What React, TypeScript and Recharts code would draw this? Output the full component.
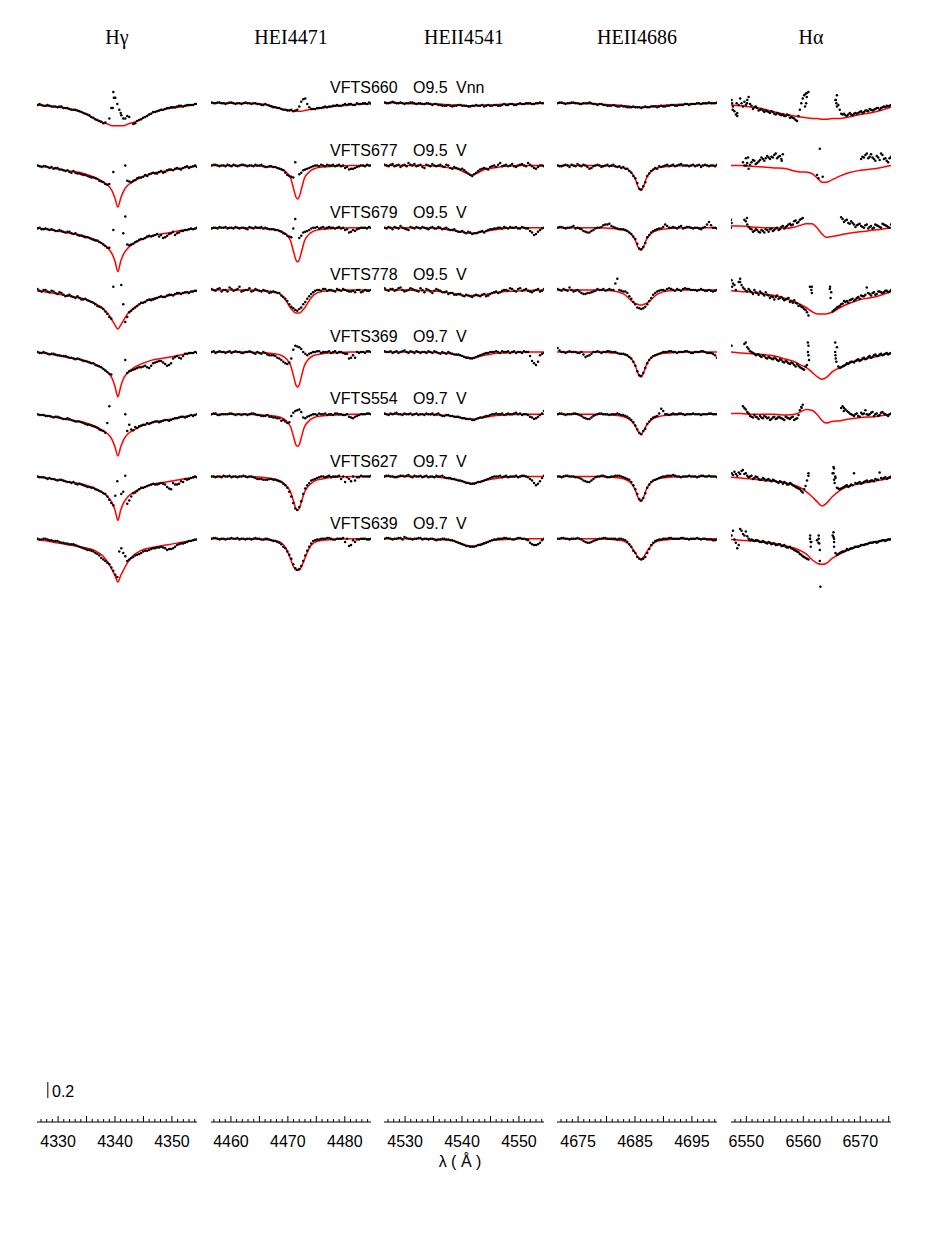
import React from 'react';
import { ComposedChart, Line, Scatter, XAxis, YAxis, ReferenceLine } from 'recharts';

// layout (page pixels)
const PX_PER_UNIT = 80;
const PLOT_TOP = 60;
const AXIS_Y = 1122;
const ROW0 = 103.3;
const ROW_STEP = 62.2;
const Y_MAX = (AXIS_Y - PLOT_TOP) / PX_PER_UNIT;
const PANEL_LEFT = [37, 211, 384, 557, 731];
const PAD = 12;

const titles = ['Hγ', 'HEI4471', 'HEII4541', 'HEII4686', 'Hα'];
const stars = ['VFTS660', 'VFTS677', 'VFTS679', 'VFTS778', 'VFTS369', 'VFTS554', 'VFTS627', 'VFTS639'];
const spTypes = ['O9.5', 'O9.5', 'O9.5', 'O9.5', 'O9.7', 'O9.7', 'O9.7', 'O9.7'];
const lumClasses = ['Vnn', 'V', 'V', 'V', 'V', 'V', 'V', 'V'];

const hgRange = [4326.3, 4354.4];
const he1Range = [4456.5, 4484.6];
const he2aRange = [4526.3, 4554.4];
const he2bRange = [4671.3, 4699.4];
const haRange = [6547.3, 6575.4];

const hgTickLabels = [4330, 4340, 4350];
const he1TickLabels = [4460, 4470, 4480];
const he2aTickLabels = [4530, 4540, 4550];
const he2bTickLabels = [4675, 4685, 4695];
const haTickLabels = [6550, 6560, 6570];

const N = null;

// ---------- H gamma ----------
const hgWave = [4326.4, 4327.1, 4327.8, 4328.5, 4329.2, 4329.9, 4330.6, 4331.3, 4332.0, 4332.7, 4333.4, 4334.1, 4334.8, 4335.5, 4336.2, 4336.9, 4337.6, 4338.3, 4339.0, 4339.7, 4340.4, 4341.1, 4341.8, 4342.5, 4343.2, 4343.9, 4344.6, 4345.3, 4346.0, 4346.7, 4347.4, 4348.1, 4348.8, 4349.5, 4350.2, 4350.9, 4351.6, 4352.3, 4353.0, 4353.7, 4354.4];
const hgObs = [
  [98, 98, 97, 97, 96, 95, 96, 94, 93, 92, 91, 89, 87, 85, 82, 79, 77, 76, 81, 114, 99, 85, 81, 83, 74, 78, 80, 83, 86, 89, 90, 92, 93, 94, 95, 96, 97, 97, 98, 98, 99],
  [100, 98, 99, 97, 96, 97, 95, 93, 92, 93, 90, 89, 88, 86, 85, 83, 80, 77, 77, 92, N, N, 100, 80, 81, 84, 85, 88, 89, 91, 90, 93, 92, 95, 94, 97, 95, 98, 97, 99, 98],
  [99, 98, 99, 97, 97, 96, 96, 94, 95, 92, 91, 90, 88, 87, 85, 84, 81, 77, 75, 97, N, N, 114, 78, 80, 83, 86, 87, 90, 90, 92, 91, 88, 92, 95, 93, 96, 97, 98, 98, 100],
  [101, 98, 100, 97, 98, 95, 96, 92, 94, 91, 92, 88, 89, 86, 84, 80, 78, 73, 66, 104, N, 106, 60, 72, 76, 80, 84, 85, 88, 88, 90, 92, 91, 94, 93, 96, 95, 97, 96, 98, 99],
  [100, 99, 99, 97, 98, 96, 95, 95, 93, 92, 92, 90, 89, 87, 86, 83, 81, 77, 73, N, N, N, 90, 76, 78, 80, 81, 83, 80, 86, 88, 89, 85, 84, 92, 95, 92, 98, 99, 99, 99],
  [100, 99, 98, 98, 96, 97, 95, 94, 94, 92, 91, 90, 88, 87, 85, 83, 80, 77, 110, N, N, N, 100, 87, 80, 83, 86, 87, 88, 90, 91, 91, 93, 92, 94, 95, 97, 96, 98, 98, 100],
  [100, 99, 98, 98, 97, 95, 96, 94, 93, 93, 90, 90, 88, 87, 86, 83, 81, 78, 71, 64, 94, 78, 101, 70, 79, 82, 86, 87, 89, 91, 90, 92, 90, 85, 92, 90, 94, 97, 97, 99, 99],
  [100, 99, 100, 98, 97, 97, 95, 94, 93, 93, 91, 89, 87, 86, 84, 81, 76, 72, 68, 60, 52, 88, 78, 74, 77, 80, 82, 85, 86, 88, 89, 90, 88, 87, 88, 92, 94, 95, 97, 98, 99],
];
const hgWaveB = [4326.75, 4327.45, 4328.15, 4328.85, 4329.55, 4330.25, 4330.95, 4331.65, 4332.35, 4333.05, 4333.75, 4334.45, 4335.15, 4335.85, 4336.55, 4337.25, 4337.95, 4338.65, 4339.35, 4340.05, 4340.75, 4341.45, 4342.15, 4342.85, 4343.55, 4344.25, 4344.95, 4345.65, 4346.35, 4347.05, 4347.75, 4348.45, 4349.15, 4349.85, 4350.55, 4351.25, 4351.95, 4352.65, 4353.35, 4354.05];
const hgObsB = [
  [99, 97, 98, 96, 96, 96, 94, 94, 92, 92, 90, 88, 86, 83, 80, 78, 75, N, 94, 107, 92, 81, 84, N, 75, 79, 82, 84, 87, 89, 91, 92, 94, 95, 95, 97, 96, 98, 98, 99],
  [99, 99, 98, 98, 97, 95, 94, 94, 91, 91, 90, 88, 87, 85, 84, 81, 79, 76, N, N, N, N, 81, 79, 82, 85, 86, 87, 90, 90, 92, 91, 94, 95, 96, 96, 97, 99, 98, 100],
  [100, 98, 98, 98, 96, 97, 95, 95, 93, 93, 90, 89, 88, 86, 84, 82, 79, 75, N, N, N, 93, 79, 79, 82, 85, 86, 89, 89, 91, 89, 87, 90, 93, 91, 94, 96, 97, 99, 99],
  [99, 100, 98, 99, 96, 97, 94, 93, 92, 90, 90, 88, 87, 85, 82, 79, 76, 70, 64, N, N, 82, 66, 74, 78, 82, 84, 87, 87, 89, 91, 91, 93, 94, 95, 96, 96, 97, 98, 99],
  [99, 100, 98, 98, 97, 96, 95, 94, 93, 91, 91, 89, 88, 86, 84, 82, 79, 75, 72, N, N, N, 74, 77, 79, 81, 82, 81, 83, 87, 89, 87, 83, 86, 94, 93, 95, 98, 99, 100],
  [99, 99, 98, 97, 97, 96, 94, 95, 93, 91, 91, 89, 87, 86, 84, 81, 79, 89, N, N, N, N, 79, 81, 84, 85, 87, 89, 89, 91, 90, 92, 93, 93, 95, 96, 97, 97, 99, 99],
  [99, 99, 97, 97, 96, 96, 95, 93, 92, 91, 91, 89, 87, 86, 84, 82, 79, 75, 67, 76, N, 81, 66, 75, 80, 84, 86, 88, 90, 90, 91, 91, 87, 84, 90, 91, 93, 96, 98, 100],
  [99, 100, 99, 98, 97, 96, 95, 94, 93, 92, 90, 88, 86, 85, 82, 79, 74, 70, 64, 55, 84, 82, 72, 76, 79, 81, 84, 85, 87, 88, 89, 89, 86, 87, 90, 93, 94, 96, 97, 99],
];
const hgExtra = [[0, 4339.6, 94], [0, 4339.8, 107], [0, 4341.0, 88]];
const hgModelWave = [4326.3, 4329, 4332, 4334.5, 4336.5, 4337.8, 4338.8, 4339.5, 4340, 4340.5, 4341, 4341.5, 4342.2, 4343.2, 4344.5, 4346.5, 4349, 4352, 4354.4];
const hgModel = [
  [98, 96, 93, 88, 80, 76, 74, 72, 72, 72, 72, 72, 74, 76, 80, 88, 93, 96, 99],
  [100, 97, 93, 90, 85, 80, 75, 68, 59, 48, 59, 68, 75, 80, 85, 90, 93, 97, 99],
  [100, 97, 93, 90, 85, 80, 74, 67, 58, 45, 58, 67, 74, 80, 85, 90, 93, 97, 99],
  [99, 96, 92, 89, 83, 77, 70, 62, 56, 51, 56, 62, 70, 77, 83, 89, 92, 96, 99],
  [100, 97, 93, 90, 85, 80, 74, 67, 57, 44, 57, 67, 74, 80, 85, 90, 93, 97, 100],
  [100, 97, 93, 90, 85, 80, 75, 68, 59, 48, 59, 68, 75, 80, 85, 90, 93, 97, 100],
  [100, 97, 93, 90, 85, 80, 74, 67, 58, 45, 58, 67, 74, 80, 85, 90, 93, 97, 99],
  [99, 96, 92, 89, 85, 79, 70, 61, 54, 46, 54, 61, 70, 79, 85, 89, 92, 96, 99],
];

// ---------- He I 4471 ----------
const he1Wave = [4456.6, 4457.3, 4458.0, 4458.7, 4459.4, 4460.1, 4460.8, 4461.5, 4462.2, 4462.9, 4463.6, 4464.3, 4465.0, 4465.7, 4466.4, 4467.1, 4467.8, 4468.5, 4469.2, 4469.9, 4470.6, 4471.3, 4472.0, 4472.7, 4473.4, 4474.1, 4474.8, 4475.5, 4476.2, 4476.9, 4477.6, 4478.3, 4479.0, 4479.7, 4480.4, 4481.1, 4481.8, 4482.5, 4483.2, 4483.9, 4484.6];
const he1Obs = [
  [101, 100, 101, 100, 100, 101, 99, 100, 100, 100, 99, 100, 99, 98, 98, 96, 95, 94, 92, 91, 92, 91, 96, 105, 99, 93, 93, 94, 95, 95, 96, 97, 97, 98, 98, 99, 98, 99, 100, 99, 100],
  [100, 101, 99, 100, 101, 99, 100, 100, 101, 99, 100, 101, 100, 99, 98, 99, 98, 96, 94, 88, 86, 104, 89, 94, 96, 98, 100, 99, 100, 101, 100, 99, 101, 100, 98, 96, 97, 99, 100, 101, 100],
  [99, 100, 101, 100, 99, 100, 101, 99, 100, 98, 100, 101, 100, 99, 99, 98, 97, 96, 93, 90, 88, 111, 87, 94, 96, 99, 100, 99, 101, 100, 100, 99, 101, 100, 98, 95, 96, 99, 100, 99, 100],
  [101, 99, 102, 100, 98, 101, 100, 104, 99, 100, 98, 101, 99, 100, 98, 97, 97, 96, 91, 86, 79, 75, 76, 82, 89, 95, 99, 100, 101, 99, 100, 98, 100, 101, 99, 98, 97, 100, 98, 99, 100],
  [100, 99, 101, 100, 100, 99, 101, 100, 99, 100, 100, 98, 99, 100, 97, 96, 95, 92, 88, 85, 92, 108, 106, 100, 96, 99, 100, 101, 100, 100, 99, 101, 100, 99, 98, 93, 93, 99, 100, 101, 100],
  [100, 101, 99, 100, 100, 101, 99, 100, 100, 99, 101, 100, 99, 98, 99, 97, 96, 95, 93, 89, 98, 104, 106, 96, 97, 99, 100, 101, 100, 99, 100, 101, 100, 99, 100, 96, 97, 99, 100, 101, 100],
  [100, 99, 100, 101, 100, 99, 100, 100, 101, 99, 100, 98, 97, 96, 96, 97, 96, 94, 91, 86, 75, 60, 62, 78, 89, 95, 97, 99, 100, 100, 99, 100, 101, 100, 99, 94, 95, 99, 100, 100, 101],
  [100, 101, 99, 100, 100, 101, 100, 99, 100, 100, 99, 101, 100, 99, 100, 98, 97, 95, 90, 84, 75, 63, 62, 72, 85, 94, 98, 99, 100, 101, 100, 99, 100, 101, 100, 92, 96, 99, 100, 99, 100],
];
const he1WaveB = [4456.95, 4457.65, 4458.35, 4459.05, 4459.75, 4460.45, 4461.15, 4461.85, 4462.55, 4463.25, 4463.95, 4464.65, 4465.35, 4466.05, 4466.75, 4467.45, 4468.15, 4468.85, 4469.55, 4470.25, 4470.95, 4471.65, 4472.35, 4473.05, 4473.75, 4474.45, 4475.15, 4475.85, 4476.55, 4477.25, 4477.95, 4478.65, 4479.35, 4480.05, 4480.75, 4481.45, 4482.15, 4482.85, 4483.55, 4484.25];
const he1ObsB = [
  [100, 101, 100, 99, 101, 100, 100, 99, 101, 100, 100, 99, 98, 99, 97, 95, 94, 93, 92, 91, 90, 92, 102, 106, 95, 93, 94, 94, 96, 96, 97, 98, 97, 99, 99, 98, 100, 99, 100, 101],
  [101, 100, 100, 99, 100, 101, 99, 101, 100, 100, 99, 100, 101, 98, 99, 98, 97, 95, 91, 87, 85, N, 91, 95, 97, 99, 100, 101, 99, 100, 101, 100, 99, 97, 95, 96, 98, 100, 99, 100],
  [100, 99, 100, 101, 100, 99, 100, 100, 99, 101, 99, 100, 101, 100, 98, 98, 97, 95, 92, 89, 99, N, 90, 95, 97, 100, 101, 100, 99, 101, 100, 100, 99, 97, 94, 97, 98, 100, 100, 101],
  [100, 101, 98, 100, 103, 99, 101, 98, 100, 102, 99, 100, 98, 99, 96, 98, 96, 93, 89, 82, 77, 74, 78, 85, 92, 97, 100, 99, 101, 100, 99, 101, 99, 100, 98, 99, 100, 97, 100, 99],
  [101, 100, 100, 99, 101, 100, 100, 99, 100, 101, 99, 100, 98, 99, 96, 96, 93, 90, 86, 87, 103, 107, 104, 98, 98, 100, 101, 99, 100, 101, 100, 99, 100, 98, 92, 96, 100, 100, 99, 101],
  [101, 99, 100, 100, 101, 100, 100, 99, 100, 100, 101, 99, 98, 98, 97, 96, 95, 92, 91, 90, 102, 105, 103, 95, 98, 100, 99, 100, 101, 100, 99, 101, 100, 99, 97, 95, 98, 100, 100, 101],
  [100, 100, 99, 100, 101, 100, 99, 100, 100, 100, 99, 97, 97, 96, 97, 96, 95, 93, 89, 81, 67, 58, 69, 85, 92, 96, 98, 100, 99, 101, 100, 100, 97, 93, 97, 100, 99, 101, 100, 100],
  [101, 100, 100, 99, 100, 100, 101, 100, 99, 100, 100, 100, 99, 100, 99, 97, 96, 93, 88, 80, 68, 61, 66, 79, 90, 97, 99, 100, 100, 101, 99, 100, 100, 96, 91, 98, 99, 100, 100, 99],
];
const he1ModelWave = [4456.5, 4460, 4463, 4465.5, 4467.5, 4468.8, 4469.8, 4470.5, 4471, 4471.4, 4471.7, 4472, 4472.4, 4472.9, 4473.6, 4474.6, 4476, 4478, 4481, 4484.6];
const he1Model = [
  [101, 100, 100, 99, 96, 93, 92, 91, 90, 90, 90, 90, 90, 91, 92, 93, 94, 96, 98, 99],
  [100, 100, 100, 99, 98, 96, 91, 84, 71, 61, 58, 61, 71, 84, 91, 96, 98, 99, 100, 100],
  [100, 100, 100, 99, 98, 96, 91, 83, 70, 60, 57, 60, 70, 83, 91, 96, 98, 99, 100, 100],
  [100, 100, 100, 99, 98, 94, 85, 77, 73, 71, 71, 71, 73, 77, 85, 94, 98, 99, 100, 100],
  [100, 100, 100, 99, 98, 96, 91, 83, 70, 59, 56, 59, 70, 83, 91, 96, 98, 99, 100, 100],
  [100, 100, 100, 99, 98, 96, 91, 84, 72, 62, 60, 62, 72, 84, 91, 96, 98, 99, 100, 100],
  [100, 100, 100, 99, 97, 94, 88, 80, 69, 60, 58, 60, 69, 80, 88, 94, 97, 99, 100, 100],
  [100, 100, 100, 99, 98, 95, 86, 74, 65, 61, 61, 61, 65, 74, 86, 95, 98, 99, 100, 100],
];

// ---------- He II 4541 ----------
const he2aWave = [4526.4, 4527.1, 4527.8, 4528.5, 4529.2, 4529.9, 4530.6, 4531.3, 4532.0, 4532.7, 4533.4, 4534.1, 4534.8, 4535.5, 4536.2, 4536.9, 4537.6, 4538.3, 4539.0, 4539.7, 4540.4, 4541.1, 4541.8, 4542.5, 4543.2, 4543.9, 4544.6, 4545.3, 4546.0, 4546.7, 4547.4, 4548.1, 4548.8, 4549.5, 4550.2, 4550.9, 4551.6, 4552.3, 4553.0, 4553.7, 4554.4];
const he2aObs = [
  [101, 100, 102, 100, 101, 99, 100, 101, 99, 100, 99, 100, 98, 99, 98, 97, 98, 96, 97, 98, 97, 96, 97, 98, 97, 96, 98, 97, 98, 97, 99, 98, 99, 98, 100, 99, 100, 99, 100, 101, 100],
  [101, 99, 102, 100, 98, 101, 103, 100, 99, 101, 97, 100, 102, 99, 101, 98, 100, 96, 97, 95, 94, 90, 87, 91, 95, 97, 95, 99, 98, 103, 100, 99, 102, 98, 101, 100, 103, 99, 96, 100, 99],
  [100, 101, 98, 100, 102, 99, 97, 100, 101, 99, 100, 98, 101, 99, 100, 99, 98, 97, 96, 95, 94, 95, 92, 93, 95, 94, 97, 98, 99, 100, 101, 99, 100, 101, 99, 100, 99, 94, 92, 97, 100],
  [102, 99, 101, 100, 103, 98, 100, 101, 99, 102, 97, 100, 96, 101, 99, 97, 95, 96, 94, 95, 92, 93, 91, 94, 92, 95, 93, 96, 98, 97, 100, 99, 101, 98, 102, 100, 99, 97, 100, 98, 101],
  [101, 100, 99, 101, 100, 102, 99, 100, 101, 99, 100, 101, 99, 100, 98, 99, 100, 98, 97, 96, 94, 93, 92, 94, 96, 98, 99, 100, 101, 99, 100, 101, 100, 99, 100, 101, 100, 89, 84, 96, 99],
  [101, 99, 100, 102, 100, 101, 100, 99, 101, 100, 99, 100, 101, 100, 99, 98, 99, 98, 97, 96, 95, 94, 93, 94, 96, 97, 98, 100, 101, 100, 99, 101, 100, 102, 101, 100, 99, 96, 95, 99, 104],
  [100, 101, 100, 99, 101, 100, 102, 99, 100, 101, 100, 99, 100, 101, 100, 99, 98, 97, 96, 95, 93, 92, 91, 92, 93, 95, 97, 99, 100, 101, 100, 99, 100, 101, 100, 101, 99, 95, 89, 94, 101],
  [100, 101, 99, 100, 101, 102, 100, 99, 100, 101, 100, 99, 100, 98, 99, 100, 99, 98, 96, 94, 92, 91, 90, 91, 92, 94, 96, 98, 99, 100, 101, 100, 99, 100, 101, 100, 98, 93, 92, 95, 100],
];
const he2aWaveB = [4526.75, 4527.45, 4528.15, 4528.85, 4529.55, 4530.25, 4530.95, 4531.65, 4532.35, 4533.05, 4533.75, 4534.45, 4535.15, 4535.85, 4536.55, 4537.25, 4537.95, 4538.65, 4539.35, 4540.05, 4540.75, 4541.45, 4542.15, 4542.85, 4543.55, 4544.25, 4544.95, 4545.65, 4546.35, 4547.05, 4547.75, 4548.45, 4549.15, 4549.85, 4550.55, 4551.25, 4551.95, 4552.65, 4553.35, 4554.05];
const he2aObsB = [
  [100, 101, 101, 100, 100, 100, 101, 100, 100, 99, 100, 99, 99, 98, 97, 97, 97, 97, 98, 97, 97, 96, 97, 97, 98, 97, 97, 98, 97, 98, 98, 99, 98, 99, 99, 100, 100, 99, 100, 100],
  [100, 101, 99, 101, 100, 99, 101, 102, 100, 98, 101, 99, 100, 100, 99, 101, 97, 98, 96, 96, 92, 88, 89, 93, 96, 96, 98, 100, 101, 99, 101, 100, 99, 100, 102, 99, 101, 97, 98, 100],
  [99, 100, 101, 99, 100, 98, 101, 99, 100, 101, 99, 100, 99, 101, 98, 100, 97, 98, 95, 96, 93, 94, 93, 94, 96, 96, 98, 99, 100, 99, 100, 101, 100, 99, 101, 99, 96, 91, 95, 99],
  [100, 101, 99, 102, 100, 99, 102, 100, 98, 100, 101, 98, 99, 100, 97, 98, 96, 94, 95, 93, 94, 92, 93, 93, 94, 92, 95, 97, 96, 99, 100, 102, 99, 101, 99, 101, 98, 99, 101, 99],
  [100, 101, 100, 99, 101, 100, 101, 99, 100, 100, 99, 100, 101, 99, 100, 98, 99, 97, 97, 95, 93, 92, 93, 95, 97, 99, 100, 100, 100, 101, 100, 99, 101, 100, 99, 100, 95, 86, 88, 98],
  [100, 101, 101, 100, 99, 100, 101, 100, 99, 100, 101, 100, 99, 101, 98, 99, 98, 97, 97, 95, 94, 94, 93, 95, 96, 98, 99, 100, 100, 101, 100, 100, 101, 100, 99, 100, 97, 94, 97, 101],
  [101, 100, 99, 100, 101, 101, 100, 101, 100, 99, 101, 100, 99, 100, 101, 98, 98, 97, 95, 94, 92, 91, 91, 93, 94, 96, 98, 100, 100, 99, 101, 100, 100, 99, 101, 100, 97, 92, 91, 98],
  [101, 100, 100, 101, 99, 101, 100, 100, 101, 99, 100, 100, 99, 99, 100, 99, 98, 97, 95, 93, 91, 90, 90, 92, 93, 95, 97, 99, 100, 100, 101, 100, 99, 101, 100, 99, 95, 92, 93, 98],
];
const he2aModelWave = [4526.3, 4530, 4533.5, 4536, 4538, 4539.5, 4540.6, 4541.3, 4541.7, 4542.1, 4542.8, 4543.9, 4545.4, 4547.5, 4550.5, 4554.4];
const he2aModel = [
  [101, 100, 99, 99, 98, 98, 97, 97, 97, 97, 97, 98, 98, 99, 99, 100],
  [100, 100, 100, 99, 97, 95, 91, 89, 88, 89, 91, 95, 97, 99, 100, 100],
  [100, 100, 100, 99, 97, 95, 94, 93, 93, 93, 94, 95, 97, 99, 100, 100],
  [100, 100, 99, 98, 96, 94, 93, 93, 93, 93, 93, 94, 96, 98, 99, 100],
  [100, 100, 100, 99, 98, 96, 94, 93, 93, 93, 94, 96, 98, 99, 100, 100],
  [100, 100, 100, 99, 98, 96, 95, 94, 94, 94, 95, 96, 98, 99, 100, 100],
  [100, 100, 100, 99, 97, 95, 93, 92, 91, 92, 93, 95, 97, 99, 100, 100],
  [100, 100, 100, 99, 98, 95, 92, 91, 91, 91, 92, 95, 98, 99, 100, 100],
];

// ---------- He II 4686 ----------
const he2bWave = [4671.4, 4672.1, 4672.8, 4673.5, 4674.2, 4674.9, 4675.6, 4676.3, 4677.0, 4677.7, 4678.4, 4679.1, 4679.8, 4680.5, 4681.2, 4681.9, 4682.6, 4683.3, 4684.0, 4684.7, 4685.4, 4686.1, 4686.8, 4687.5, 4688.2, 4688.9, 4689.6, 4690.3, 4691.0, 4691.7, 4692.4, 4693.1, 4693.8, 4694.5, 4695.2, 4695.9, 4696.6, 4697.3, 4698.0, 4698.7, 4699.4];
const he2bObs = [
  [100, 101, 99, 100, 101, 100, 99, 100, 101, 99, 98, 99, 98, 97, 98, 96, 97, 96, 95, 96, 95, 94, 96, 95, 96, 95, 97, 96, 97, 98, 97, 98, 99, 98, 99, 100, 99, 100, 101, 100, 101],
  [100, 99, 101, 98, 100, 102, 99, 100, 96, 99, 101, 98, 100, 99, 101, 98, 97, 96, 93, 87, 78, 70, 79, 90, 95, 96, 98, 100, 99, 101, 100, 102, 100, 99, 101, 100, 98, 101, 99, 100, 101],
  [100, 101, 99, 100, 102, 100, 98, 95, 94, 97, 100, 101, 104, 105, 101, 99, 98, 97, 94, 89, 80, 73, 81, 91, 96, 98, 99, 104, 100, 101, 99, 102, 100, 101, 99, 100, 98, 101, 107, 100, 99],
  [101, 99, 100, 103, 98, 100, 96, 95, 96, 98, 101, 100, 99, 101, 100, 114, 99, 98, 92, 85, 78, 76, 79, 86, 94, 98, 100, 99, 102, 100, 101, 99, 102, 101, 100, 99, 101, 99, 100, 98, 100],
  [105, 100, 99, 101, 100, 99, 100, 94, 96, 100, 101, 99, 100, 101, 100, 99, 98, 97, 94, 88, 76, 70, 80, 90, 95, 97, 99, 100, 101, 100, 99, 100, 101, 100, 99, 100, 101, 100, 99, 98, 93],
  [100, 101, 99, 100, 101, 100, 98, 95, 94, 98, 100, 101, 100, 99, 100, 101, 99, 98, 95, 90, 81, 75, 82, 91, 96, 98, 107, 100, 99, 101, 100, 101, 99, 100, 101, 100, 99, 100, 101, 100, 100],
  [100, 99, 101, 100, 100, 99, 97, 94, 93, 97, 100, 101, 100, 99, 100, 101, 100, 98, 96, 89, 78, 70, 79, 90, 95, 97, 99, 100, 101, 102, 100, 99, 100, 101, 100, 99, 101, 100, 101, 100, 99],
  [100, 101, 100, 99, 100, 101, 99, 96, 95, 97, 99, 100, 101, 100, 100, 99, 100, 98, 93, 85, 77, 74, 77, 87, 95, 98, 99, 100, 101, 100, 100, 101, 100, 99, 100, 101, 99, 100, 99, 98, 99],
];
const he2bWaveB = [4671.75, 4672.45, 4673.15, 4673.85, 4674.55, 4675.25, 4675.95, 4676.65, 4677.35, 4678.05, 4678.75, 4679.45, 4680.15, 4680.85, 4681.55, 4682.25, 4682.95, 4683.65, 4684.35, 4685.05, 4685.75, 4686.45, 4687.15, 4687.85, 4688.55, 4689.25, 4689.95, 4690.65, 4691.35, 4692.05, 4692.75, 4693.45, 4694.15, 4694.85, 4695.55, 4696.25, 4696.95, 4697.65, 4698.35, 4699.05];
const he2bObsB = [
  [101, 100, 100, 101, 100, 99, 100, 100, 100, 99, 99, 98, 97, 97, 97, 96, 96, 95, 95, 95, 95, 95, 95, 96, 96, 96, 96, 97, 98, 97, 98, 98, 99, 99, 99, 100, 100, 100, 100, 100],
  [99, 100, 100, 101, 99, 100, 101, 98, 97, 100, 100, 99, 101, 100, 99, 99, 98, 96, 91, 84, 71, 74, 87, 93, 97, 99, 99, 101, 100, 99, 101, 100, 100, 100, 99, 101, 100, 100, 100, 99],
  [101, 100, 100, 101, 99, 99, 96, 94, 96, 99, 100, 103, 104, 102, 100, 98, 98, 96, 92, 86, 74, 76, 88, 94, 97, 99, 101, 102, 100, 100, 101, 99, 101, 100, 100, 99, 100, 104, 103, 100],
  [100, 101, 99, 100, 99, 98, 95, 96, 97, 99, 100, 101, 100, 100, 108, 100, 98, 96, 89, 82, 77, 77, 82, 90, 96, 99, 100, 101, 101, 99, 100, 101, 101, 100, 100, 100, 100, 99, 99, 99],
  [102, 100, 100, 100, 100, 99, 97, 95, 98, 100, 100, 100, 101, 100, 100, 98, 98, 96, 92, 83, 71, 74, 86, 93, 96, 98, 100, 100, 101, 100, 100, 100, 101, 99, 100, 100, 101, 99, 99, 96],
  [101, 100, 100, 100, 101, 99, 96, 94, 96, 99, 101, 100, 100, 100, 100, 100, 99, 97, 93, 86, 77, 79, 88, 94, 97, 101, 104, 100, 100, 100, 101, 100, 100, 100, 100, 100, 100, 100, 101, 100],
  [100, 100, 101, 100, 99, 98, 95, 93, 95, 99, 100, 101, 99, 100, 101, 101, 99, 97, 93, 84, 72, 73, 86, 93, 96, 98, 100, 101, 101, 101, 100, 100, 100, 100, 100, 100, 101, 100, 100, 100],
  [100, 101, 100, 100, 100, 100, 97, 95, 96, 98, 100, 101, 100, 100, 100, 100, 99, 96, 90, 82, 75, 75, 82, 92, 97, 99, 100, 100, 101, 100, 100, 101, 100, 100, 100, 100, 100, 99, 99, 98],
];
const he2bModelWave = [4671.3, 4675, 4678.5, 4681, 4683, 4684.3, 4685, 4685.5, 4685.8, 4686, 4686.2, 4686.5, 4687, 4687.7, 4689, 4691, 4694, 4699.4];
const he2bModel = [
  [100, 100, 99, 98, 97, 96, 95, 95, 95, 95, 95, 95, 95, 96, 97, 98, 99, 100],
  [100, 100, 100, 99, 97, 92, 84, 74, 70, 69, 70, 74, 84, 92, 97, 99, 100, 100],
  [100, 100, 100, 99, 97, 92, 85, 76, 73, 72, 73, 76, 85, 92, 97, 99, 100, 100],
  [100, 100, 100, 99, 95, 87, 83, 82, 81, 81, 81, 82, 83, 87, 95, 99, 100, 100],
  [100, 100, 100, 99, 97, 92, 84, 74, 70, 69, 70, 74, 84, 92, 97, 99, 100, 100],
  [100, 100, 100, 99, 97, 92, 86, 79, 76, 75, 76, 79, 86, 92, 97, 99, 100, 100],
  [100, 100, 100, 99, 97, 92, 84, 74, 70, 69, 70, 74, 84, 92, 97, 99, 100, 100],
  [100, 100, 100, 99, 97, 90, 83, 77, 75, 74, 75, 77, 83, 90, 97, 99, 100, 100],
];

// ---------- H alpha ----------
const haWave = [6547.4, 6547.9, 6548.4, 6548.9, 6549.4, 6549.9, 6550.4, 6550.9, 6551.4, 6551.9, 6552.4, 6552.9, 6553.4, 6553.9, 6554.4, 6554.9, 6555.4, 6555.9, 6556.4, 6556.9, 6557.4, 6557.9, 6558.4, 6558.9, 6559.4, 6559.9, 6560.4, 6560.9, 6561.4, 6561.9, 6562.4, 6562.9, 6563.4, 6563.9, 6564.4, 6564.9, 6565.4, 6565.9, 6566.4, 6566.9, 6567.4, 6567.9, 6568.4, 6568.9, 6569.4, 6569.9, 6570.4, 6570.9, 6571.4, 6571.9, 6572.4, 6572.9, 6573.4, 6573.9, 6574.4, 6574.9, 6575.4];
const haObs = [
  [104, 90, 84, 106, 96, 98, 108, 97, 95, 94, 92, 91, 91, 89, 90, 87, 88, 86, 86, 84, 85, 83, 81, 78, 92, 106, 112, 114, N, N, N, N, N, N, N, N, N, 110, 92, 86, 85, 86, 86, 87, 87, 89, 88, 91, 90, 92, 92, 94, 92, 95, 95, 96, 98],
  [N, N, N, N, 104, 109, 96, 104, 106, 103, 107, 108, 109, 110, 111, 113, 109, 112, 114, N, N, N, N, N, N, N, N, N, N, N, 88, 121, 86, N, N, N, N, N, N, N, N, N, N, N, N, N, 111, 113, 109, 114, 108, 112, 107, 113, 109, 104, 111],
  [106, N, N, N, N, 108, 101, 98, 96, 97, 94, 96, 98, 95, 99, 97, 100, 98, 102, 101, 104, 103, 108, 106, 110, 112, N, N, N, N, N, N, N, N, N, N, N, N, N, 111, 109, 106, 108, 104, 103, 105, 101, 103, 99, 102, 100, 103, 101, 105, 103, 101, 104],
  [112, 106, N, 114, 103, 99, 101, 97, 100, 96, 98, 95, 97, 93, 92, 88, 93, 90, 89, 88, 90, 86, 87, 83, 81, 78, 75, 68, 100, N, N, N, N, N, N, 97, 75, 78, 80, 83, 85, 84, 88, 86, 90, 89, 92, 94, 96, 93, 97, 95, 98, 96, 99, 97, 100],
  [108, N, N, N, N, 112, 104, 100, 98, 97, 95, 96, 93, 94, 92, 93, 90, 91, 88, 89, 86, 87, 84, 85, 81, 79, 82, 108, N, N, N, N, N, N, N, N, N, 106, 80, 82, 84, 85, 88, 87, 90, 89, 92, 91, 94, 93, 96, 95, 97, 96, 98, 97, 99],
  [N, N, N, N, 110, 106, 101, 97, 99, 96, 98, 95, 97, 96, 94, 97, 95, 96, 94, 97, 95, 96, 93, 95, 105, 112, N, N, N, N, N, N, N, N, N, N, N, N, N, 110, 106, 103, 100, 98, 101, 97, 100, 105, 99, 102, 98, 101, 99, 103, 100, 98, 101],
  [104, 106, 101, 103, 108, 104, 99, 101, 98, 99, 96, 98, 95, 97, 94, 95, 93, 94, 91, 92, 90, 91, 88, 86, 84, 80, 88, 101, N, N, N, N, N, N, N, N, 110, 86, 84, 86, 88, 87, 90, 104, 91, 93, 92, 94, 93, 95, 94, 96, 105, 97, 99, 98, 100],
  [104, 99, 88, 112, 106, 109, 100, 99, 97, 98, 96, 97, 95, 96, 93, 94, 92, 93, 91, 90, 89, 88, 86, 84, 81, 78, 76, 74, 96, N, 98, 72, N, N, N, N, 100, 80, 82, 84, 85, 86, 88, 89, 90, 91, 92, 93, 94, 95, 96, 95, 97, 98, 97, 99, 99],
];
const haWaveB = [6547.65, 6548.15, 6548.65, 6549.15, 6549.65, 6550.15, 6550.65, 6551.15, 6551.65, 6552.15, 6552.65, 6553.15, 6553.65, 6554.15, 6554.65, 6555.15, 6555.65, 6556.15, 6556.65, 6557.15, 6557.65, 6558.15, 6558.65, 6559.15, 6559.65, 6560.15, 6560.65, 6561.15, 6561.65, 6562.15, 6562.65, 6563.15, 6563.65, 6564.15, 6564.65, 6565.15, 6565.65, 6566.15, 6566.65, 6567.15, 6567.65, 6568.15, 6568.65, 6569.15, 6569.65, 6570.15, 6570.65, 6571.15, 6571.65, 6572.15, 6572.65, 6573.15, 6573.65, 6574.15, 6574.65, 6575.15];
const haObsB = [
  [96, 86, 98, 100, 102, 104, 99, 93, 96, 91, 93, 89, 90, 88, 89, 86, 87, 85, 84, 86, 82, 82, 79, 84, 100, 110, 113, N, N, N, N, N, N, N, N, N, 104, 98, 87, 87, 84, 88, 85, 88, 88, 90, 89, 91, 93, 91, 93, 94, 94, 96, 97, 97],
  [N, N, N, N, 100, 103, 101, 107, 102, 105, 110, 106, 112, 108, 110, 115, 111, 108, N, N, N, N, N, N, N, N, N, N, N, N, 84, N, N, N, N, N, N, N, N, N, N, N, N, N, N, 108, 110, 115, 111, 110, 106, 110, 115, 108, 106, 109],
  [N, N, N, N, 110, 104, 99, 95, 98, 95, 97, 94, 97, 98, 96, 99, 97, 101, 99, 102, 105, 104, 109, 107, 111, N, N, N, N, N, N, N, N, N, N, N, N, N, 113, 107, 110, 105, 106, 101, 104, 102, 100, 104, 101, 99, 104, 102, 100, 104, 102, 100],
  [108, 100, 110, 106, 101, 98, 99, 95, 97, 94, 96, 93, 94, 90, 91, 91, 89, 91, 87, 89, 85, 84, 84, 80, 79, 76, 72, 104, N, N, N, N, N, N, 101, 73, 76, 79, 82, 86, 86, 87, 89, 88, 91, 93, 92, 103, 95, 96, 94, 98, 97, 97, 99, 98],
  [N, N, N, N, 110, 106, 101, 99, 96, 97, 94, 95, 92, 93, 91, 92, 89, 90, 87, 88, 85, 86, 82, 83, 80, 78, 84, N, N, N, N, N, N, N, N, N, 96, 82, 81, 83, 86, 87, 88, 89, 91, 90, 93, 92, 95, 94, 97, 95, 98, 97, 99, 98],
  [N, N, N, N, 108, 103, 98, 96, 97, 94, 96, 98, 95, 93, 96, 94, 97, 95, 93, 96, 94, 97, 94, 99, 109, N, N, N, N, N, N, N, N, N, N, N, N, N, 108, 108, 104, 101, 99, 100, 98, 102, 101, 100, 100, 103, 100, 98, 102, 101, 99, 100],
  [102, 103, 105, 107, 103, 101, 100, 97, 100, 97, 96, 97, 96, 95, 96, 94, 92, 93, 93, 90, 92, 89, 87, 85, 82, 84, 95, N, N, N, N, N, N, N, N, 104, 98, 85, 85, 87, 89, 88, 89, 92, 92, 91, 93, 95, 94, 95, 97, 96, 98, 98, 97, 99],
  [110, 95, 92, 110, 104, 103, 98, 98, 98, 97, 96, 96, 94, 95, 94, 92, 93, 91, 92, 89, 90, 87, 85, 83, 80, 77, 75, 100, N, N, 95, N, N, N, N, 104, 82, 81, 83, 84, 87, 87, 88, 90, 90, 92, 92, 93, 95, 95, 96, 96, 97, 98, 98, 99],
];
const haExtra = [
  [0, 6547.5, 100], [0, 6547.6, 92], [0, 6548.3, 100], [0, 6548.4, 88], [0, 6550.1, 100], [0, 6560.3, 96], [0, 6560.5, 100], [0, 6560.6, 108], [0, 6565.7, 104], [0, 6565.8, 100], [0, 6565.9, 96],
  [1, 6550.0, 100], [1, 6550.3, 110], [1, 6556.2, 106],
  [2, 6547.3, 100], [2, 6547.3, 110], [2, 6550.1, 112],
  [3, 6547.5, 104], [3, 6548.9, 110], [3, 6561.5, 104], [3, 6561.5, 96], [3, 6564.7, 104], [3, 6564.8, 90],
  [4, 6560.8, 112], [4, 6560.8, 100], [4, 6560.9, 96], [4, 6561.0, 90], [4, 6565.6, 112], [4, 6565.6, 100], [4, 6565.7, 92], [4, 6565.8, 88],
  [5, 6559.7, 108], [5, 6567.1, 104],
  [6, 6560.9, 104], [6, 6565.3, 112], [6, 6565.3, 104], [6, 6565.4, 96], [6, 6565.5, 92], [6, 6565.6, 100],
  [7, 6561.2, 104], [7, 6561.2, 100], [7, 6561.3, 96], [7, 6561.3, 90], [7, 6562.7, 104], [7, 6562.7, 100], [7, 6562.8, 94], [7, 6562.9, 86], [7, 6563.0, 40], [7, 6565.3, 108], [7, 6565.3, 102], [7, 6565.4, 96], [7, 6565.4, 90],
];
const haModelWave = [6547.3, 6549, 6551, 6553, 6555, 6557, 6558.5, 6559.5, 6560.5, 6561.5, 6562.5, 6563.3, 6564, 6565, 6566.5, 6568, 6570, 6572.5, 6575.4];
const haModel = [
  [98, 97, 95, 93, 89, 86, 84, 83, 82, 81, 81, 80, 80, 81, 81, 83, 86, 89, 95],
  [100, 100, 99, 98, 97, 96, 93, 92, 92, 90, 84, 79, 79, 82, 87, 91, 94, 96, 100],
  [102, 102, 101, 100, 100, 99, 101, 103, 105, 105, 99, 92, 88, 89, 91, 93, 95, 97, 100],
  [99, 98, 97, 95, 93, 89, 85, 82, 78, 73, 70, 70, 70, 72, 78, 83, 88, 91, 98],
  [100, 99, 98, 97, 95, 91, 88, 84, 81, 75, 69, 66, 68, 75, 81, 86, 90, 94, 99],
  [101, 101, 100, 100, 100, 99, 100, 103, 106, 105, 99, 92, 89, 91, 92, 94, 96, 97, 100],
  [99, 98, 97, 95, 94, 92, 89, 86, 81, 75, 68, 63, 66, 74, 83, 88, 91, 94, 98],
  [99, 98, 97, 96, 94, 91, 88, 85, 81, 74, 69, 68, 69, 75, 81, 86, 91, 96, 100],
];

const columns = [
  { title: titles[0], range: hgRange, labels: hgTickLabels, wave: hgWave, obs: hgObs, waveB: hgWaveB, obsB: hgObsB, extra: hgExtra, modelWave: hgModelWave, model: hgModel },
  { title: titles[1], range: he1Range, labels: he1TickLabels, wave: he1Wave, obs: he1Obs, waveB: he1WaveB, obsB: he1ObsB, extra: [], modelWave: he1ModelWave, model: he1Model },
  { title: titles[2], range: he2aRange, labels: he2aTickLabels, wave: he2aWave, obs: he2aObs, waveB: he2aWaveB, obsB: he2aObsB, extra: [], modelWave: he2aModelWave, model: he2aModel },
  { title: titles[3], range: he2bRange, labels: he2bTickLabels, wave: he2bWave, obs: he2bObs, waveB: he2bWaveB, obsB: he2bObsB, extra: [], modelWave: he2bModelWave, model: he2bModel },
  { title: titles[4], range: haRange, labels: haTickLabels, wave: haWave, obs: haObs, waveB: haWaveB, obsB: haObsB, extra: haExtra, modelWave: haModelWave, model: haModel },
];

const rowBase = (k: number) => ROW0 + ROW_STEP * k;
// shift so that flux 1.0 of row k lands on its baseline
const rowShift = (k: number) => (AXIS_Y - rowBase(k)) / PX_PER_UNIT - 1;

function obsPoints(col: any, k: number) {
  const pts: { x: number; y: number }[] = [];
  const add = (w: number, v: number | null) => {
    if (v != null) pts.push({ x: w, y: v / 100 + rowShift(k) });
  };
  col.wave.forEach((w: number, i: number) => add(w, col.obs[k][i]));
  col.waveB.forEach((w: number, i: number) => add(w, col.obsB[k][i]));
  col.extra.filter((e: number[]) => e[0] === k).forEach((e: number[]) => add(e[1], e[2]));
  return pts;
}

function modelPoints(wave: number[], vals: number[], k: number) {
  return wave.map((w, i) => ({ x: w, y: vals[i] / 100 + rowShift(k) }));
}

const SANS = '"Liberation Sans", Arial, Helvetica, sans-serif';
const SERIF = '"Liberation Serif", "Times New Roman", serif';

const Dot = (props: any) => <circle cx={props.cx} cy={props.cy} r={1.25} fill="#000" />;

function makeTick(labels: number[]) {
  return (props: any) => {
    const { x, payload } = props;
    const v = Math.round(payload.value);
    const len = v % 5 === 0 ? 6 : 3;
    return (
      <g>
        <line x1={x} y1={AXIS_Y} x2={x} y2={AXIS_Y - len} stroke="#000" strokeWidth={1} />
        {labels.includes(v) && (
          <text x={x} y={AXIS_Y + 25} textAnchor="middle" fontSize={16} fontFamily={SANS} fill="#000">
            {v}
          </text>
        )}
      </g>
    );
  };
}

function SpectraColumn({ col, idx }: { col: any; idx: number }) {
  const ticks: number[] = [];
  for (let t = Math.ceil(col.range[0]); t <= Math.floor(col.range[1]); t++) ticks.push(t);
  const rows = stars.map((_, k) => k);
  return (
    <div style={{ position: 'absolute', left: PANEL_LEFT[idx] - PAD, top: 0 }}>
      <ComposedChart width={160 + 2 * PAD} height={1200} margin={{ top: PLOT_TOP, right: PAD, bottom: 38, left: PAD }}>
        <XAxis
          type="number"
          dataKey="x"
          domain={col.range}
          allowDataOverflow
          ticks={ticks}
          interval={0}
          tick={makeTick(col.labels)}
          tickLine={false}
          tickSize={0}
          tickMargin={0}
          axisLine={{ stroke: '#000', strokeWidth: 1 }}
          height={40}
        />
        <YAxis type="number" dataKey="y" domain={[0, Y_MAX]} allowDataOverflow hide />
        {rows.map((k) => (
          <Scatter key={'o' + k} data={obsPoints(col, k)} shape={Dot} isAnimationActive={false} />
        ))}
        {rows.map((k) => (
          <Line
            key={'m' + k}
            data={modelPoints(col.modelWave, col.model[k], k)}
            dataKey="y"
            type="monotone"
            stroke="#ff0000"
            strokeWidth={1.5}
            dot={false}
            isAnimationActive={false}
          />
        ))}
        {idx === 0 && (
          <ReferenceLine
            segment={[{ x: 4328.2, y: 0.3 }, { x: 4328.2, y: 0.5 }]}
            stroke="#000"
            strokeWidth={1}
            ifOverflow="visible"
          />
        )}
      </ComposedChart>
    </div>
  );
}

export default function App() {
  return (
    <div style={{ position: 'absolute', left: 0, top: 0, width: 926, height: 1252, background: '#fff' }}>
      {columns.map((col, i) => (
        <SpectraColumn key={i} col={col} idx={i} />
      ))}
      <svg width={926} height={1252} style={{ position: 'absolute', left: 0, top: 0, pointerEvents: 'none' }}>
        {columns.map((col, i) => (
          <text key={'t' + i} x={PANEL_LEFT[i] + 80} y={44} textAnchor="middle" fontSize={20} fontFamily={SERIF} fill="#000">
            {col.title}
          </text>
        ))}
        {stars.map((s, k) => (
          <g key={'l' + k} fontFamily={SANS} fontSize={16} fill="#000">
            <text x={330} y={rowBase(k) - 10}>{s}</text>
            <text x={413} y={rowBase(k) - 10}>{spTypes[k]}</text>
            <text x={456} y={rowBase(k) - 10}>{lumClasses[k]}</text>
          </g>
        ))}
        <text x={52} y={1097} fontSize={16} fontFamily={SANS} fill="#000">0.2</text>
        <text x={460} y={1167} textAnchor="middle" fontSize={16} fontFamily={SANS} fill="#000">λ ( Å )</text>
      </svg>
    </div>
  );
}
